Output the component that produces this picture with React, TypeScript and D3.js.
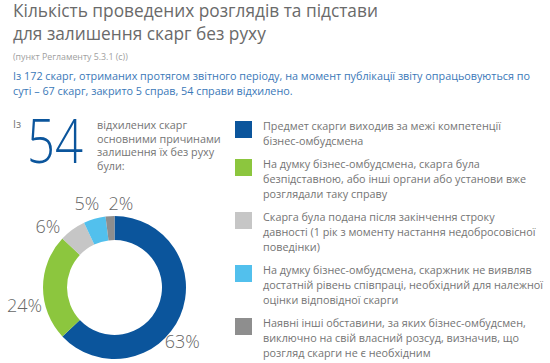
import * as d3 from 'd3'

const TITLE_LINES = ['Кількість проведених розглядів та підстави', 'для залишення скарг без руху']
const SUBTITLE = '(пункт Регламенту 5.3.1 (с))'
const INTRO_LINES = [
  'Із 172 скарг, отриманих протягом звітного періоду, на момент публікації звіту опрацьовуються по',
  'суті – 67 скарг, закрито 5 справ, 54 справи відхилено.',
]
const TOTAL = 54
const LEAD_LINES = ['відхилених скарг', 'основними причинами', 'залишення їх без руху', 'були:']

const categories = ['competence', 'groundless', 'expired', 'cooperation', 'other']
const shares = [63, 24, 6, 5, 2]
const colors = ['#0b559c', '#8cc63e', '#c6c6c6', '#52c0ed', '#8e8e8e']
const legendLines = [
  ['Предмет скарги виходив за межі компетенції', 'бізнес-омбудсмена'],
  [
    'На думку бізнес-омбудсмена, скарга була',
    'безпідставною, або інші органи або установи вже',
    'розглядали таку справу',
  ],
  [
    'Скарга була подана після закінчення строку',
    'давності (1 рік з моменту настання недобросовісної',
    'поведінки)',
  ],
  [
    'На думку бізнес-омбудсмена, скаржник не виявляв',
    'достатній рівень співпраці, необхідний для належної',
    'оцінки відповідної скарги',
  ],
  [
    'Наявні інші обставини, за яких бізнес-омбудсмен,',
    'виключно на свій власний розсуд, визначив, що',
    'розгляд скарги не є необхідним',
  ],
]

const FONT = "'Open Sans', sans-serif"
const GRAY = '#747474'

export default function App() {
  const width = 550
  const height = 363

  const cx = 114.5
  const cy = 287.5
  const outer = 71.5
  const inner = 47.5

  const data = categories.map((c, i) => ({ key: c, value: shares[i], color: colors[i] }))
  const pie = d3.pie<any>().value(d => d.value).sort(null)
  const arcs = pie(data)
  const arc = d3.arc<any>().innerRadius(inner).outerRadius(outer)
  const labelArc = d3.arc<any>().innerRadius(88).outerRadius(88)
  // manual nudges so the small slice labels don't collide
  const nudge = [
    [-13, 19],
    [-2, 17],
    [-15, 10],
    [-3, 0],
    [12, 3],
  ]

  // legend layout: stacked by number of lines
  const lineH = 15
  const itemGap = 8
  const legendTop = 121
  const tops: number[] = []
  let acc = legendTop
  legendLines.forEach(lines => {
    tops.push(acc)
    acc += lines.length * lineH + itemGap
  })

  return (
    <svg
      width={width}
      height={height}
      style={{ position: 'absolute', left: 0, top: 0, background: '#fff' }}
      fontFamily={FONT}
    >
      {TITLE_LINES.map((t, i) => (
        <text key={t} x={13} y={17 + i * 23} fontSize={17.3} fill="#6a6a6a">
          {t}
        </text>
      ))}
      <text x={13} y={60} fontSize={8.8} fill="#a0a0a0">
        {SUBTITLE}
      </text>
      {INTRO_LINES.map((t, i) => (
        <text key={t} x={13} y={80 + i * 15} fontSize={10.8} fill="#3a78b8">
          {t}
        </text>
      ))}

      <text x={13} y={128} fontSize={10.5} fill={GRAY}>
        Із
      </text>
      <text
        x={27}
        y={163}
        fontSize={60}
        fontWeight={300}
        fill="#0b559c"
        textLength={56}
        lengthAdjust="spacingAndGlyphs"
      >
        {TOTAL}
      </text>
      {LEAD_LINES.map((t, i) => (
        <text key={t} x={97} y={129 + i * 13.5} fontSize={10.8} fill={GRAY}>
          {t}
        </text>
      ))}

      <g transform={`translate(${cx},${cy})`}>
        {arcs.map(a => (
          <path key={a.data.key} d={arc(a) || ''} fill={a.data.color} />
        ))}
        {arcs.map((a, i) => {
          const [lx, ly] = labelArc.centroid(a)
          return (
            <text
              key={a.data.key}
              x={lx + nudge[i][0]}
              y={ly + nudge[i][1]}
              textAnchor="middle"
              dominantBaseline="central"
              fontSize={18}
              fontWeight={300}
              fill="#666"
            >
              {a.data.value}%
            </text>
          )
        })}
      </g>

      {legendLines.map((lines, i) => (
        <g key={categories[i]} transform={`translate(235,${tops[i]})`}>
          <rect width={17} height={17} fill={colors[i]} />
          {lines.map((l, j) => (
            <text key={j} x={28} y={9 + j * lineH} fontSize={10.8} fill={GRAY}>
              {l}
            </text>
          ))}
        </g>
      ))}
    </svg>
  )
}
